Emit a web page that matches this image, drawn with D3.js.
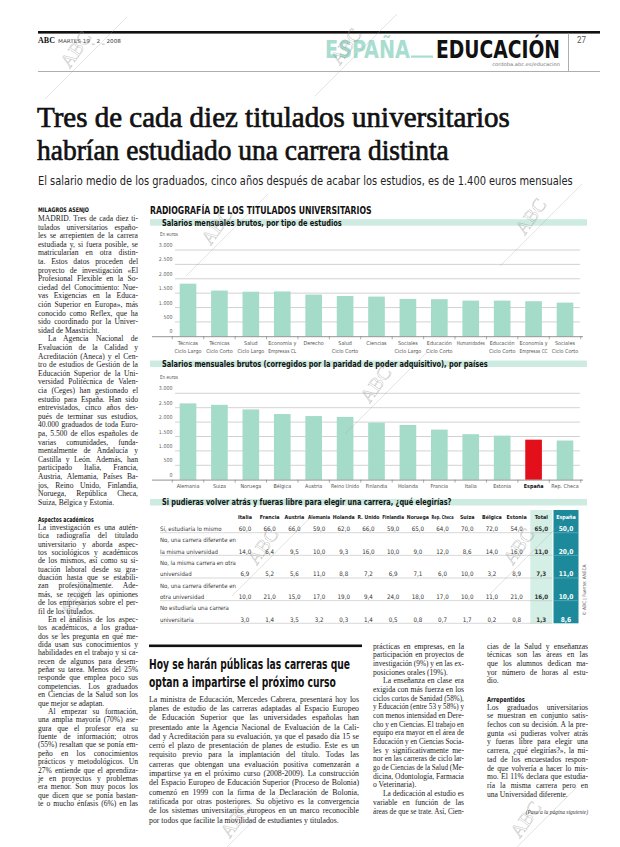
<!DOCTYPE html>
<html><head><meta charset="utf-8">
<script src="https://cdn.jsdelivr.net/npm/d3@7"></script>
<style>html,body{margin:0;padding:0;background:#fff}svg{display:block}</style>
</head><body>
<svg id="page" width="620" height="847" viewBox="0 0 620 847"></svg>
<script>
// ---------------- DATA ----------------
const studyCategories = [["Técnicas","Ciclo Largo"],["Técnicas","Ciclo Corto"],["Salud","Ciclo Largo"],["Economía y","Empresas CL"],["Derecho"],["Salud","Ciclo Corto"],["Ciencias"],["Sociales","Ciclo Largo"],["Educación","Ciclo Corto"],["Humanidades"],["Educación","Ciclo Corto"],["Economía y","Empresas CC"],["Sociales","Ciclo Corto"]];
const studySalaries = [1830, 1590, 1550, 1560, 1450, 1400, 1380, 1300, 1290, 1240, 1240, 1220, 1170];
const countries = ["Alemania","Suiza","Noruega","Bélgica","Austria","Reino Unido","Finlandia","Holanda","Francia","Italia","Estonia","España","Rep. Checa"];
const countrySalaries = [2650, 2600, 2440, 2280, 2210, 2180, 1980, 1900, 1740, 1580, 1530, 1390, 1360];
const highlightCountry = "España";
const yTicks = [0, 500, 1000, 1500, 2000, 2500, 3000];
const tableCols = ["Italia","Francia","Austria","Alemania","Holanda","R. Unido","Finlandia","Noruega","Rep. Checa","Suiza","Bélgica","Estonia","Total","España"];
const tableRowLabels = [["Sí, estudiaría lo mismo"],["No, una carrera diferente en","la misma universidad"],["No, la misma carrera en otra","universidad"],["No, una carrera diferente en","otra universidad"],["No estudiaría una carrera","universitaria"]];
const tableValues = [
  [60.0,66.0,66.0,59.0,62.0,66.0,59.0,65.0,64.0,70.0,72.0,54.0,65.0,50.0],
  [14.0,6.4,9.5,10.0,9.3,16.0,10.0,9.0,12.0,8.6,14.0,16.0,11.0,20.0],
  [6.9,5.2,5.6,11.0,8.8,7.2,6.9,7.1,6.0,10.0,3.2,8.9,7.3,11.0],
  [10.0,21.0,15.0,17.0,19.0,9.4,24.0,18.0,17.0,10.0,11.0,21.0,16.0,10.0],
  [3.0,1.4,3.5,3.2,0.3,1.4,0.5,0.8,0.7,1.7,0.2,0.8,1.3,8.6]
];

// ---------------- TEXTS ----------------
const leftColA = [
 {indent:false, end:true, lines:["MADRID. Tres de cada diez ti-","tulados universitarios españo-","les se arrepienten de la carrera","estudiada y, si fuera posible, se","matricularían en otra distin-","ta. Estos datos proceden del","proyecto de investigación «El","Profesional Flexible en la So-","ciedad del Conocimiento: Nue-","vas Exigencias en la Educa-","ción Superior en Europa», más","conocido como Reflex, que ha","sido coordinado por la Univer-","sidad de Maastricht."]},
 {indent:true, end:true, lines:["La Agencia Nacional de","Evaluación de la Calidad y","Acreditación (Aneca) y el Cen-","tro de estudios de Gestión de la","Educación Superior de la Uni-","versidad Politécnica de Valen-","cia (Ceges) han gestionado el","estudio para España. Han sido","entrevistados, cinco años des-","pués de terminar sus estudios,","40.000 graduados de toda Euro-","pa, 5.500 de ellos españoles de","varias comunidades, funda-","mentalmente de Andalucía y","Castilla y León. Además, han","participado Italia, Francia,","Austria, Alemania, Países Ba-","jos, Reino Unido, Finlandia,","Noruega, República Checa,","Suiza, Bélgica y Estonia."]}
];
const leftColB = [
 {indent:false, end:true, lines:["La investigación es una autén-","tica radiografía del titulado","universitario y aborda aspec-","tos sociológicos y académicos","de los mismos, así como su si-","tuación laboral desde su gra-","duación hasta que se estabili-","zan profesionalmente. Ade-","más, se recogen las opiniones","de los empresarios sobre el per-","fil de los titulados."]},
 {indent:true, end:true, lines:["En el análisis de los aspec-","tos académicos, a los gradua-","dos se les pregunta en qué me-","dida usan sus conocimientos y","habilidades en el trabajo y si ca-","recen de algunos para desem-","peñar su tarea. Menos del 25%","responde que emplea poco sus","competencias. Los graduados","en Ciencias de la Salud son los","que mejor se adaptan."]},
 {indent:true, end:false, lines:["Al empezar su formación,","una amplia mayoría (70%) ase-","gura que el profesor era su","fuente de información; otros","(55%) resaltan que se ponía em-","peño en los conocimientos","prácticos y metodológicos. Un","27% entiende que el aprendiza-","je en proyectos y problemas","era menor. Son muy pocos los","que dicen que se ponía bastan-","te o mucho énfasis (6%) en las"]}
];
const bottomArticle = [
 {indent:false, end:true, lines:["La ministra de Educación, Mercedes Cabrera, presentará hoy los","planes de estudio de las carreras adaptadas al Espacio Europeo","de Educación Superior que las universidades españolas han","presentado ante la Agencia Nacional de Evaluación de la Cali-","dad y Acreditación para su evaluación, ya que el pasado día 15 se","cerró el plazo de presentación de planes de estudio. Este es un","requisito previo para la implantación del título. Todas las","carreras que obtengan una evaluación positiva comenzarán a","impartirse ya en el próximo curso (2008-2009). La construcción","del Espacio Europeo de Educación Superior (Proceso de Bolonia)","comenzó en 1999 con la firma de la Declaración de Bolonia,","ratificada por otras posteriores. Su objetivo es la convergencia","de los sistemas universitarios europeos en un marco reconocible","por todos que facilite la movilidad de estudiantes y titulados."]}
];
const midCol = [
 {indent:false, end:true, lines:["prácticas en empresas, en la","participación en proyectos de","investigación (9%) y en las ex-","posiciones orales (19%)."]},
 {indent:true, end:true, lines:["La enseñanza en clase era","exigida con más fuerza en los","ciclos cortos de Sanidad (58%),","y Educación (entre 53 y 58%) y","con menos intensidad en Dere-","cho y en Ciencias. El trabajo en","equipo era mayor en el área de","Educación y en Ciencias Socia-","les y significativamente me-","nor en las carreras de ciclo lar-","go de Ciencias de la Salud (Me-","dicina, Odontología, Farmacia","o Veterinaria)."]},
 {indent:true, end:false, lines:["La dedicación al estudio es","variable en función de las","áreas de que se trate. Así, Cien-"]}
];
const rightColA = [
 {indent:false, end:true, lines:["cias de la Salud y enseñanzas","técnicas son las áreas en las","que los alumnos dedican ma-","yor número de horas al estu-","dio."]}
];
const rightColB = [
 {indent:false, end:true, lines:["Los graduados universitarios","se muestran en conjunto satis-","fechos con su decisión. A la pre-","gunta «si pudieras volver atrás","y fueras libre para elegir una","carrera, ¿qué elegirías?», la mi-","tad de los encuestados respon-","de que volvería a hacer lo mis-","mo. El 11% declara que estudia-","ría la misma carrera pero en","una Universidad diferente."]}
];

// ---------------- STYLE ----------------
const SANS_N = "'Liberation Sans Narrow','DejaVu Sans Condensed','Roboto Condensed',Roboto,sans-serif";
const SANS = "Roboto,'Open Sans',sans-serif";
const SERIF = "'Liberation Serif','DejaVu Serif',serif";
const TEAL = "#a4dbc9", BAND = "#cdebe0", RED = "#e3101b", DARK = "#1d8a9b", TOTALBG = "#d4efe5";

const loc = d3.formatLocale({decimal:",", thousands:".", grouping:[3], currency:["","€"]});
const fmtInt = loc.format(",d");
const fmtDec = loc.format(".1f");

const svg = d3.select("#page");
svg.append("rect").attr("width",620).attr("height",847).attr("fill","#fff");

// place text; o.len = exact width (scaled), o.max = max width (shrink only)
function txt(g, s, x, y, o = {}) {
  const t = g.append("text").attr("x", x).attr("y", y).text(s)
    .attr("font-family", o.ff || SANS_N).attr("font-size", o.fs || 6).attr("fill", o.fill || "#222");
  if (o.fw) t.attr("font-weight", o.fw);
  if (o.anchor) t.attr("text-anchor", o.anchor);
  if (o.style) t.attr("font-style", o.style);
  if (o.stroke) t.attr("stroke", o.fill || "#222").attr("stroke-width", o.stroke);
  if (o.len || o.max) {
    const nat = t.node().getComputedTextLength();
    let s2 = 1;
    if (o.len) s2 = o.len / nat;
    else if (nat > o.max) s2 = o.max / nat;
    if (s2 !== 1) t.attr("x", 0).attr("y", 0).attr("transform", `translate(${x},${y}) scale(${s2},1)`);
  }
  return t;
}

function textBlock(g, paras, x, w, y0, lh, fs, ff) {
  let i = 0;
  paras.forEach(p => {
    p.lines.forEach((line, k) => {
      const ind = (p.indent && k === 0) ? 10 : 0;
      const last = p.end && k === p.lines.length - 1;
      const xx = x + ind, yy = y0 + i * lh;
      const t = txt(g, line, xx, yy, {ff: ff || SERIF, fs: fs, fill: "#1a1a1a"});
      const avail = w - ind;
      const nat = t.node().getComputedTextLength();
      if (nat > avail) {
        t.attr("x", 0).attr("y", 0).attr("transform", `translate(${xx},${yy}) scale(${avail / nat},1)`);
      } else if (!last) {
        const sp = (line.match(/ /g) || []).length;
        if (sp > 0) t.attr("word-spacing", (avail - nat) / sp);
      }
      i++;
    });
  });
}

// ---------------- HEADER ----------------
const hdr = svg.append("g");
hdr.append("rect").attr("x",38).attr("y",31).attr("width",562).attr("height",2.6).attr("fill","#111");
txt(hdr, "ABC", 38, 43, {ff: SERIF, fs: 9, fw: 700, fill: "#111", len: 17});
txt(hdr, "MARTES 19 _ 2 _ 2008", 58, 42.5, {fs: 5.3, fill: "#444", len: 63});
txt(hdr, "ESPAÑA", 325, 57.5, {fs: 24, fw: 700, fill: "#a9ddd0", len: 85});
hdr.append("rect").attr("x",411).attr("y",55.5).attr("width",22).attr("height",2.2).attr("fill","#a9ddd0");
txt(hdr, "EDUCACIÓN", 436, 57.5, {fs: 25, fw: 900, fill: "#111", len: 124});
txt(hdr, "cordoba.abc.es/educacion", 560, 66, {fs: 5, fill: "#777", anchor: "end", len: 68});
hdr.append("line").attr("x1",568.5).attr("x2",568.5).attr("y1",33).attr("y2",71).attr("stroke","#999").attr("stroke-width",0.8);
txt(hdr, "27", 577, 43, {fs: 9, fill: "#555", ff: SANS, max: 9});
hdr.append("line").attr("x1",38).attr("x2",600).attr("y1",71.5).attr("y2",71.5).attr("stroke","#999").attr("stroke-width",0.8);

// ---------------- HEADLINE ----------------
txt(svg, "Tres de cada diez titulados universitarios", 37, 127, {ff: SERIF, fs: 30, fill: "#111", len: 473, stroke: 0.7});
txt(svg, "habrían estudiado una carrera distinta", 37, 160, {ff: SERIF, fs: 30, fill: "#111", len: 412, stroke: 0.7});
txt(svg, "El salario medio de los graduados, cinco años después de acabar los estudios, es de 1.400 euros mensuales", 38, 185, {ff: SANS_N, fs: 12.5, fill: "#222", len: 535});

// ---------------- LEFT COLUMN ----------------
const left = svg.append("g");
txt(left, "MILAGROS ASENJO", 38, 212, {fs: 6.3, fw: 700, fill: "#111", len: 51});
textBlock(left, leftColA, 38, 100, 221, 8.6, 7.6);
txt(left, "Aspectos académicos", 38, 521.5, {fs: 7, fw: 700, fill: "#111", len: 56});
textBlock(left, leftColB, 38, 100, 529.8, 8.37, 7.6);

// ---------------- CHARTS ----------------
const charts = svg.append("g");
txt(charts, "RADIOGRAFÍA DE LOS TITULADOS UNIVERSITARIOS", 150, 214, {fs: 11, fw: 700, fill: "#111", len: 222});

function band(g, y, label, len) {
  g.append("rect").attr("x",150).attr("y",y).attr("width",437).attr("height",6.5).attr("fill",BAND);
  txt(g, label, 162, y + 6.3, {fs: 9.3, fw: 700, fill: "#111", len: len});
}

function barChart(g, cats, vals, yTop, yBase, isCountry) {
  const x = d3.scaleBand().domain(d3.range(cats.length)).range([172.3, 580.7]).paddingInner(0.47).paddingOuter(0.235);
  const y = d3.scaleLinear().domain([0, 3000]).range([yBase, yTop]);
  txt(g, "En euros", 160, yTop - 14.5, {fs: 5.5, fill: "#555", max: 18});
  g.append("g").selectAll("line").data(yTicks.filter(d => d > 0)).join("line")
    .attr("x1", 175).attr("x2", 580).attr("y1", d => y(d)).attr("y2", d => y(d))
    .attr("stroke", "#c6c6c6").attr("stroke-width", 0.8);
  g.append("g").selectAll("text").data(yTicks).join("text")
    .attr("x", 172.5).attr("y", d => y(d) - 3).attr("text-anchor", "end")
    .attr("font-family", SANS_N).attr("font-size", 5.3).attr("fill", "#666")
    .text(d => fmtInt(d));
  g.append("g").selectAll("rect").data(vals).join("rect")
    .attr("x", (d, i) => x(i)).attr("width", x.bandwidth())
    .attr("y", d => y(d)).attr("height", d => y(0) - y(d))
    .attr("fill", (d, i) => (isCountry && cats[i] === highlightCountry) ? RED : TEAL);
  g.append("line").attr("x1", 152).attr("x2", 583).attr("y1", y(0) + 0.4).attr("y2", y(0) + 0.4)
    .attr("stroke", "#777").attr("stroke-width", 0.8);
  const step = x.step();
  g.append("g").selectAll("line").data(d3.range(cats.length + 1)).join("line")
    .attr("x1", i => x(0) - step * 0.235 + i * step).attr("x2", i => x(0) - step * 0.235 + i * step)
    .attr("y1", y(0)).attr("y2", y(0) + 3).attr("stroke", "#777").attr("stroke-width", 0.6);
  const lab = g.append("g");
  cats.forEach((c, i) => {
    const cx = x(i) + x.bandwidth() / 2;
    const lines = Array.isArray(c) ? c : [c];
    lines.forEach((l, k) => {
      const bold = isCountry && l === highlightCountry;
      txt(lab, l, cx, y(0) + 8.5 + k * 8, {fs: 5.4, fill: bold ? "#111" : "#555", anchor: "middle", fw: bold ? 700 : null, max: 28});
    });
  });
}

band(charts, 219.2, "Salarios mensuales brutos, por tipo de estudios", 180);
barChart(charts.append("g"), studyCategories, studySalaries, 250, 336.3, false);

band(charts, 360.5, "Salarios mensuales brutos (corregidos por la paridad de poder adquisitivo), por países", 326);
barChart(charts.append("g"), countries, countrySalaries, 393.3, 479.7, true);

// ---------------- TABLE ----------------
band(charts, 499, "Si pudieras volver atrás y fueras libre para elegir una carrera, ¿qué elegirías?", 290);
const tbl = charts.append("g");
const tx = d3.scalePoint().domain(tableCols).range([245, 566]);
const rowBottom = d3.scaleLinear().domain([0, tableValues.length - 1]).range([532.7, 623.3]);
const tTop = 510, tBot = rowBottom(tableValues.length - 1);
tbl.append("rect").attr("x", tx("Total") - 11).attr("y", tTop).attr("width", 22).attr("height", tBot - tTop).attr("fill", TOTALBG);
tbl.append("rect").attr("x", tx("España") - 12.5).attr("y", tTop).attr("width", 25).attr("height", tBot - tTop).attr("fill", DARK);
tableCols.forEach(c => {
  const sp = c === "España";
  txt(tbl, c, tx(c), 518.8, {fs: 5.4, fw: 700, fill: sp ? "#fff" : "#222", anchor: "middle", max: 22});
});
tableValues.forEach((row, r) => {
  const yb = rowBottom(r);
  tbl.append("line").attr("x1", 160).attr("x2", tx("Total") + 11).attr("y1", yb).attr("y2", yb).attr("stroke", "#bdbdbd").attr("stroke-width", 0.6);
  if (r < tableValues.length - 1) tbl.append("line").attr("x1", tx("España") - 12.5).attr("x2", tx("España") + 12.5).attr("y1", yb).attr("y2", yb).attr("stroke", "#6fb8c2").attr("stroke-width", 0.6);
  const lbl = tableRowLabels[r];
  lbl.forEach((l, k) => txt(tbl, l, 160, yb - 1.6 - (lbl.length - 1 - k) * 11.3, {fs: 6, fill: "#333", max: 76}));
  row.forEach((v, ci) => {
    const c = tableCols[ci];
    const sp = c === "España", tot = c === "Total";
    txt(tbl, fmtDec(v), tx(c), yb - 1.6, {fs: sp ? 6.6 : 6.2, fw: (sp || tot) ? 700 : null, fill: sp ? "#fff" : "#333", anchor: "middle", max: 20});
  });
});
tbl.append("text").attr("transform", "translate(585.5,590) rotate(-90)")
  .attr("text-anchor", "middle").attr("font-family", SANS_N).attr("font-size", 4.8).attr("fill", "#555")
  .text("© ABC | Fuente: ANECA");

// ---------------- BOTTOM ARTICLE ----------------
const art = svg.append("g");
art.append("rect").attr("x", 149).attr("y", 644.5).attr("width", 213).attr("height", 2.6).attr("fill", "#111");
txt(art, "Hoy se harán públicas las carreras que", 149, 668.5, {fs: 14.2, fw: 700, fill: "#111", len: 201});
txt(art, "optan a impartirse el próximo curso", 149, 686.5, {fs: 14.2, fw: 700, fill: "#111", len: 187});
textBlock(art, bottomArticle, 149, 210, 701.6, 9.3, 7.8);
textBlock(art, midCol, 373, 91, 648.6, 8.68, 7.6);
textBlock(art, rightColA, 487, 101, 648.6, 8.7, 7.6);
txt(art, "Arrepentidos", 487, 701.5, {fs: 7, fw: 700, fill: "#111", len: 38});
textBlock(art, rightColB, 487, 101, 709.6, 8.7, 7.6);
txt(art, "(Pasa a la página siguiente)", 588, 814, {fs: 5.5, style: "italic", fill: "#333", anchor: "end", ff: SERIF});

// ---------------- WATERMARKS ----------------
const wm = svg.append("g").attr("opacity", 0.45).attr("pointer-events", "none");
const wmPos = [[85,55],[355,52],[226,232],[540,222],[385,390],[272,552],[528,552],[85,605],[245,825],[535,825]];
wmPos.forEach(([cx, cy]) => {
  wm.append("line").attr("x1", cx - 40).attr("y1", cy + 44).attr("x2", cx + 42).attr("y2", cy - 38)
    .attr("stroke", "#9a9a9a").attr("stroke-width", 0.6);
  wm.append("text").attr("transform", `translate(${cx - 4},${cy - 2}) rotate(-55)`)
    .attr("text-anchor", "middle").attr("font-family", SERIF).attr("font-size", 19)
    .attr("fill", "none").attr("stroke", "#8f8f8f").attr("stroke-width", 0.6).text("ABC");
});
</script>
</body></html>
